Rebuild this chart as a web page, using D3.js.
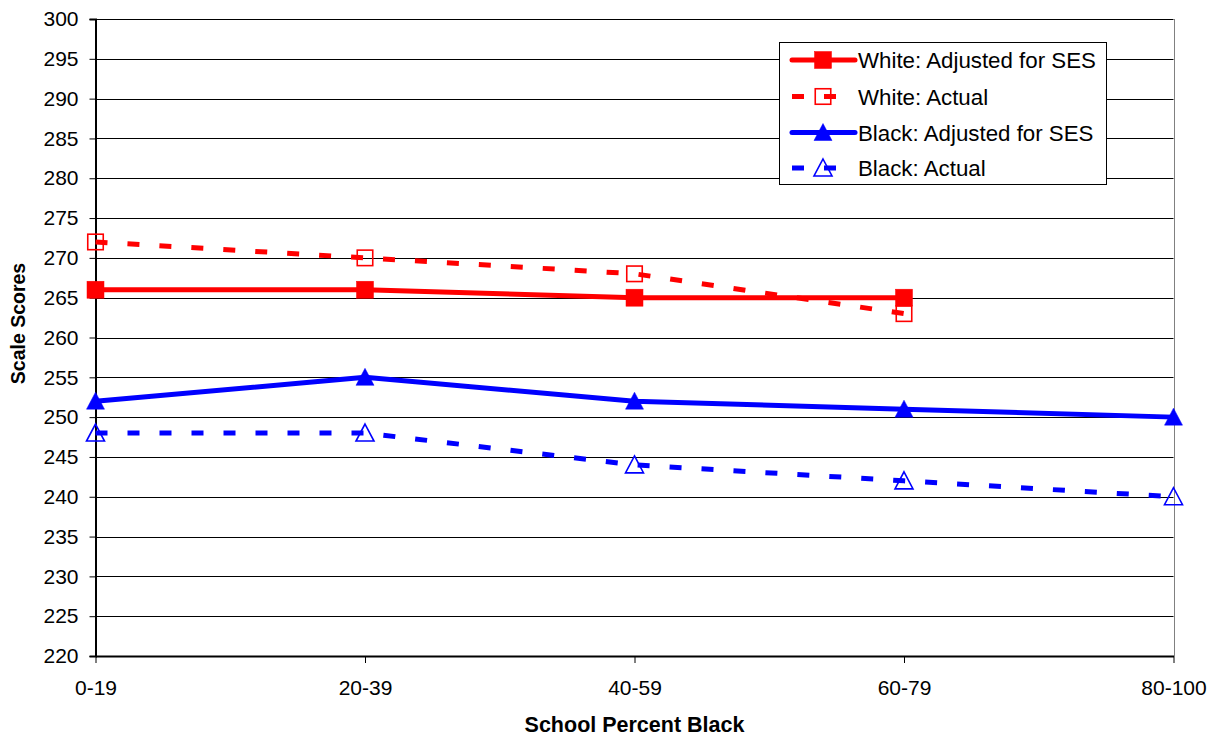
<!DOCTYPE html>
<html>
<head>
<meta charset="utf-8">
<script src="https://cdn.jsdelivr.net/npm/d3@7"></script>
<style>
  html, body { margin: 0; padding: 0; background: #fff; }
  svg { display: block; font-family: Arial, "Liberation Sans", sans-serif; }
</style>
</head>
<body>
<svg id="chart" width="1216" height="736"></svg>
<script>
const categories = ["0-19", "20-39", "40-59", "60-79", "80-100"];
const yTicks = [220,225,230,235,240,245,250,255,260,265,270,275,280,285,290,295,300];
const whiteAdjusted = [266, 266, 265, 265];
const whiteActual   = [272, 270, 268, 263];
const blackAdjusted = [252, 255, 252, 251, 250];
const blackActual   = [248, 248, 244, 242, 240];
const seriesNames = ["White: Adjusted for SES", "White: Actual", "Black: Adjusted for SES", "Black: Actual"];

const series = [
  { name: seriesNames[0], values: whiteAdjusted, color: "#ff0000", dashed: false, marker: "square", filled: true },
  { name: seriesNames[1], values: whiteActual,   color: "#ff0000", dashed: true,  marker: "square", filled: false },
  { name: seriesNames[2], values: blackAdjusted, color: "#0000ff", dashed: false, marker: "triangle", filled: true },
  { name: seriesNames[3], values: blackActual,   color: "#0000ff", dashed: true,  marker: "triangle", filled: false }
];

const svg = d3.select("#chart");
const L = 95.5, R = 1173.5, T = 19, B = 656;

const x = d3.scalePoint().domain(categories).range([L, R]);
const y = d3.scaleLinear().domain([220, 300]).range([B, T]);

// gridlines
svg.append("g").selectAll("line").data(yTicks.slice(1)).join("line")
  .attr("x1", L).attr("x2", R)
  .attr("y1", d => Math.round(y(d)) + 0.5).attr("y2", d => Math.round(y(d)) + 0.5)
  .attr("stroke", "#000").attr("stroke-width", 1);

// right border
svg.append("line").attr("x1", Math.round(R) + 0.5).attr("x2", Math.round(R) + 0.5)
  .attr("y1", T).attr("y2", B).attr("stroke", "#808080").attr("stroke-width", 1);

// y axis
const yAxis = svg.append("g").attr("transform", `translate(${L},0)`)
  .call(d3.axisLeft(y).tickValues(yTicks).tickSize(6).tickPadding(11).tickFormat(d3.format("d")));
yAxis.select(".domain").attr("stroke", "#000").attr("stroke-width", 2);
yAxis.selectAll(".tick line").attr("stroke", "#000");
yAxis.selectAll("text").attr("font-size", 21).attr("fill", "#000")
  .attr("font-family", "Arial, 'Liberation Sans', sans-serif");

// x axis
const xAxis = svg.append("g").attr("transform", `translate(0,${B})`)
  .call(d3.axisBottom(x).tickSize(7).tickPadding(17).tickSizeOuter(0));
xAxis.select(".domain").attr("stroke", "#000").attr("stroke-width", 2);
xAxis.selectAll(".tick line").attr("stroke", "#000");
xAxis.selectAll("text").attr("font-size", 21).attr("fill", "#000")
  .attr("font-family", "Arial, 'Liberation Sans', sans-serif");

// titles
svg.append("text").attr("x", (L + R) / 2).attr("y", 732).attr("text-anchor", "middle")
  .attr("font-size", 21.5).attr("font-weight", "bold").text("School Percent Black");
svg.append("text").attr("transform", `translate(25,${(T + B) / 2 - 14}) rotate(-90)`)
  .attr("text-anchor", "middle").attr("font-size", 19.5).attr("font-weight", "bold").text("Scale Scores");

function drawMarker(g, type, filled, color, cx, cy) {
  if (type === "square") {
    const s = filled ? 17 : 15.5;
    g.append("rect").attr("x", cx - s / 2).attr("y", cy - s / 2).attr("width", s).attr("height", s)
      .attr("fill", filled ? color : "none").attr("stroke", color).attr("stroke-width", filled ? 0.5 : 1.6);
  } else {
    const w = 18, h = 16;
    const pts = [[cx, cy - h / 2 - 1], [cx + w / 2, cy + h / 2], [cx - w / 2, cy + h / 2]];
    g.append("path").attr("d", "M" + pts.map(p => p.join(",")).join("L") + "Z")
      .attr("fill", filled ? color : "none").attr("stroke", color).attr("stroke-width", filled ? 0.5 : 1.6)
      .attr("stroke-linejoin", "miter");
  }
}

const line = d3.line().x((d, i) => x(categories[i])).y(d => y(d));

series.forEach(s => {
  const g = svg.append("g");
  g.append("path").datum(s.values).attr("d", line)
    .attr("fill", "none").attr("stroke", s.color).attr("stroke-width", 5)
    .attr("stroke-dasharray", s.dashed ? "12,20" : null)
    .attr("stroke-linejoin", "round");
  s.values.forEach((v, i) => drawMarker(g, s.marker, s.filled, s.color, x(categories[i]), y(v)));
});

// legend
const lg = svg.append("g");
lg.append("rect").attr("x", 779.5).attr("y", 42.5).attr("width", 327).attr("height", 142)
  .attr("fill", "#fff").attr("stroke", "#000").attr("stroke-width", 1);
const legendY = [60, 96.5, 132.5, 168];
series.forEach((s, i) => {
  const cy = legendY[i];
  lg.append("line").attr("x1", 792).attr("x2", 855).attr("y1", cy).attr("y2", cy)
    .attr("stroke", s.color).attr("stroke-width", 5)
    .attr("stroke-dasharray", s.dashed ? "12,20" : null)
    .attr("stroke-linecap", s.dashed ? "butt" : "round");
  drawMarker(lg, s.marker, s.filled, s.color, 823, cy);
  lg.append("text").attr("x", 858).attr("y", cy + 8).attr("font-size", 22.3).attr("fill", "#000").text(s.name);
});
</script>
</body>
</html>
